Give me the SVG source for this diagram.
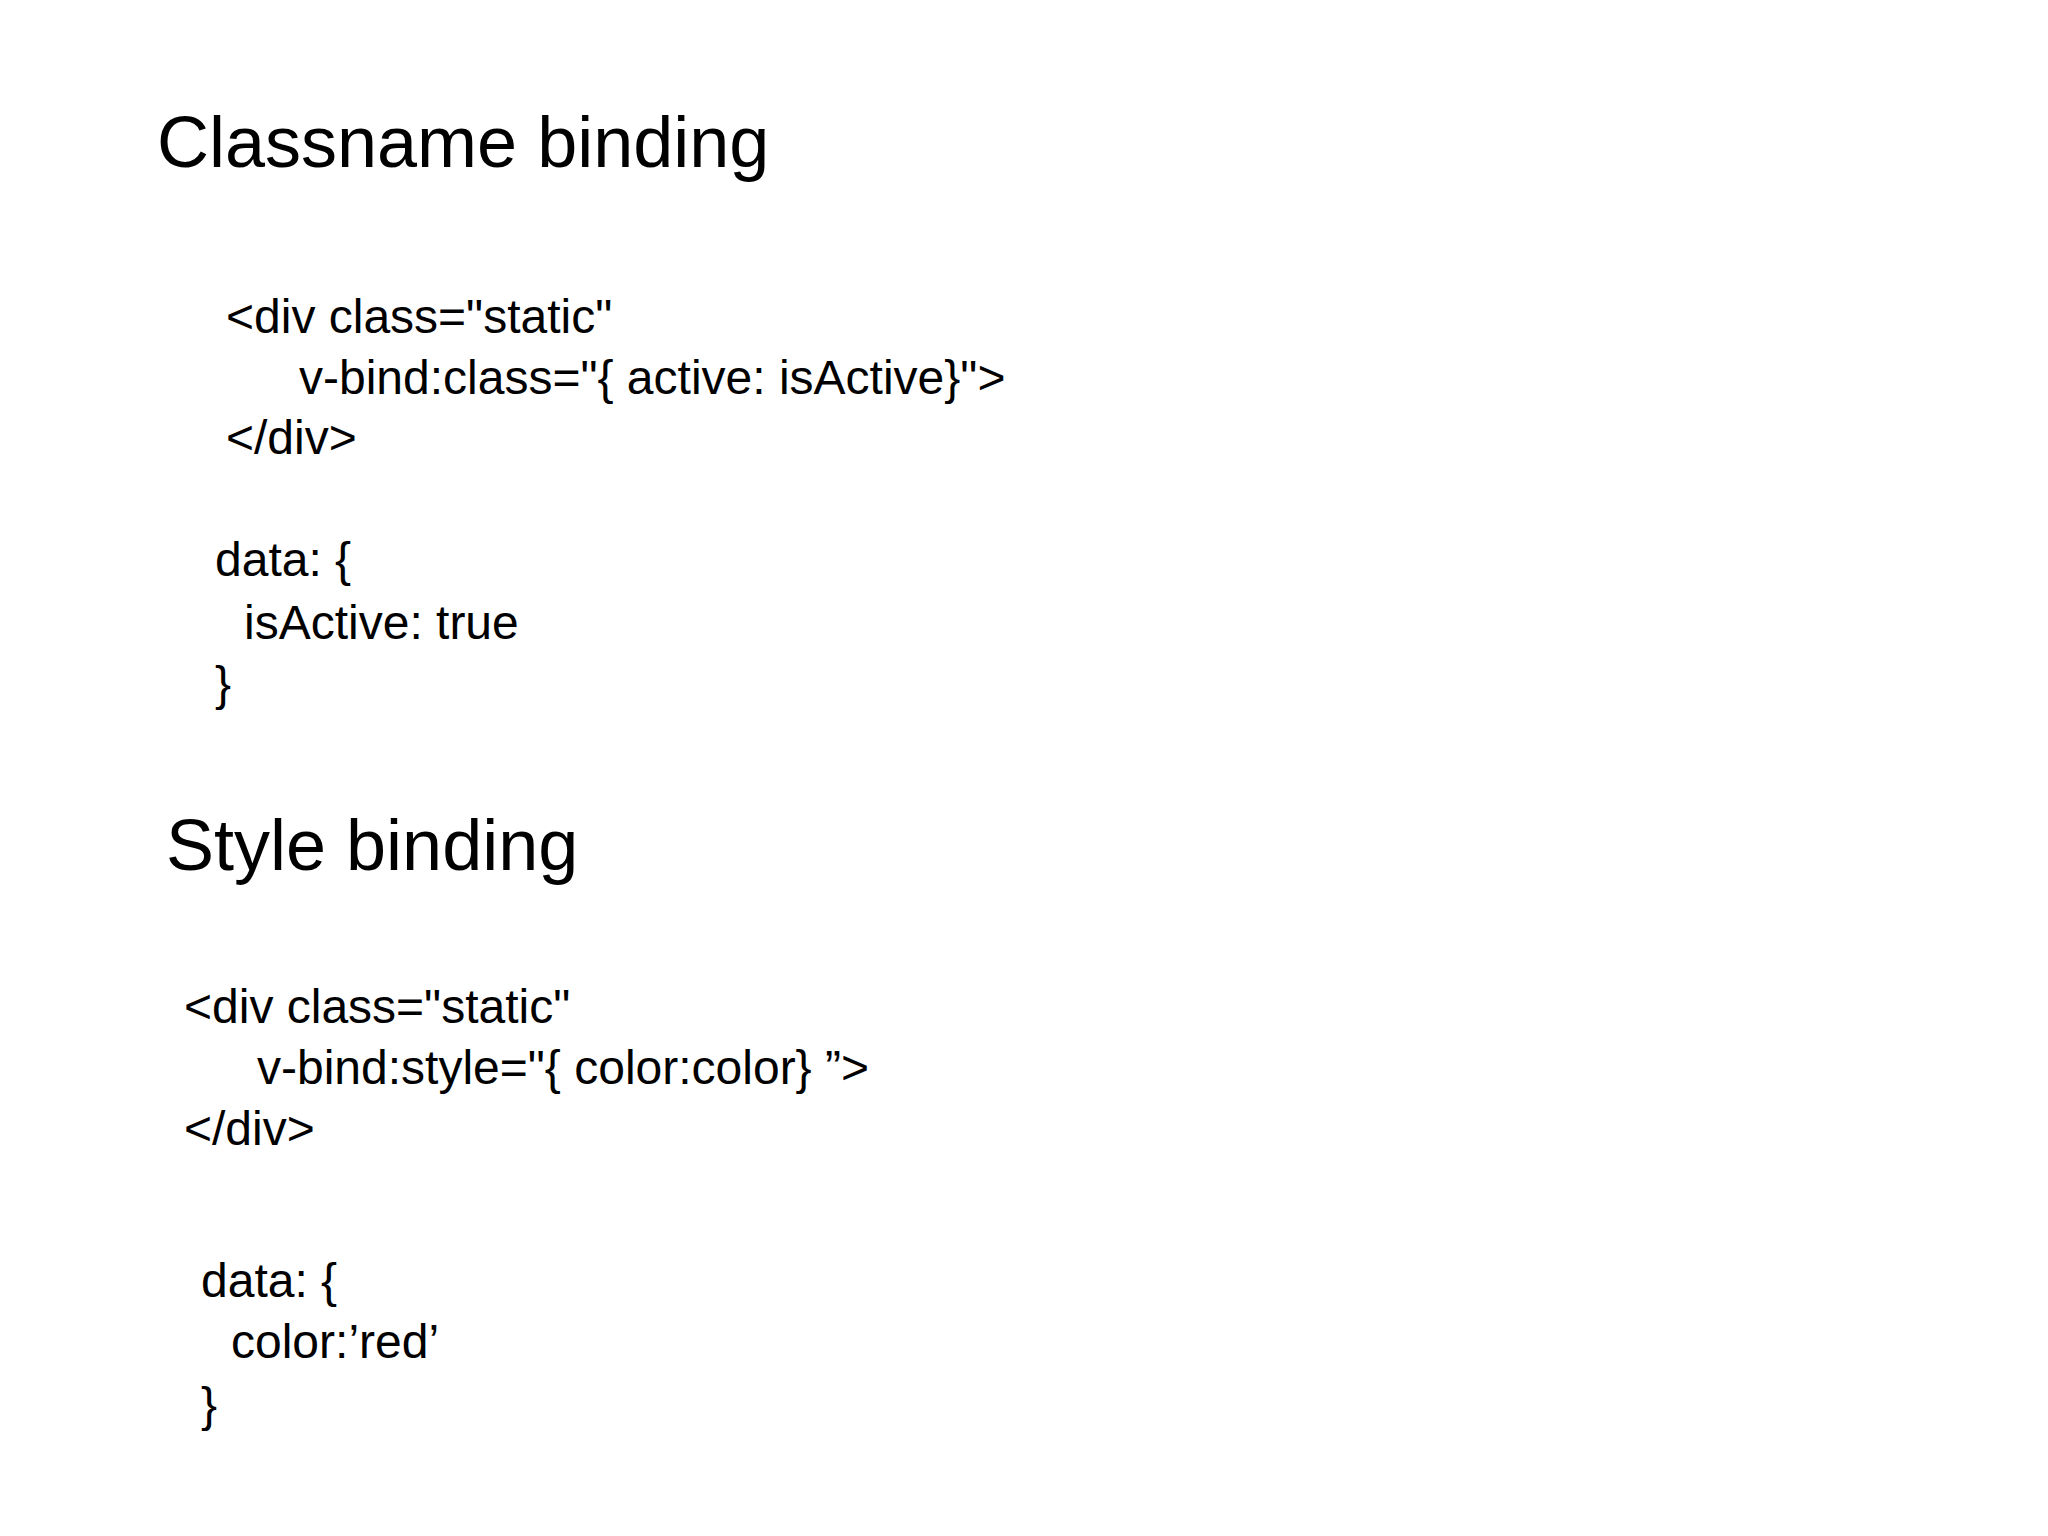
<svg xmlns="http://www.w3.org/2000/svg" width="2048" height="1536" viewBox="0 0 2048 1536">
<style>
text{font-family:"Liberation Sans",Arial,sans-serif;fill:#000}
.h{font-size:72px}
.c{font-size:48px}
</style>
<rect width="2048" height="1536" fill="#fff"/>
<g id="classname">
<text class="h" x="157" y="167">Classname binding</text>
<text class="c" x="226" y="333">&lt;div class="static"</text>
<text class="c" x="299" y="394">v-bind:class="{ active: isActive}"&gt;</text>
<text class="c" x="226" y="454">&lt;/div&gt;</text>
<text class="c" x="215" y="576">data: {</text>
<text class="c" x="244" y="639">isActive: true</text>
<text class="c" x="215" y="700">}</text>
</g>
<g id="style">
<text class="h" x="166" y="870">Style binding</text>
<text class="c" x="184" y="1023">&lt;div class="static"</text>
<text class="c" x="257" y="1084">v-bind:style="{ color:color} ”&gt;</text>
<text class="c" x="184" y="1145">&lt;/div&gt;</text>
<text class="c" x="201" y="1297">data: {</text>
<text class="c" x="231" y="1358">color:’red’</text>
<text class="c" x="201" y="1421">}</text>
</g>
<g id="connectors"/>
</svg>
